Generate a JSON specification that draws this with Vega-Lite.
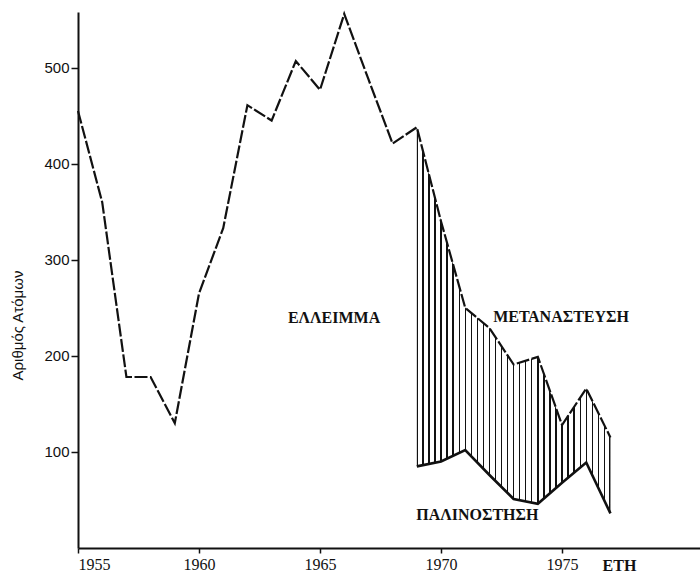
{
  "$schema": "https://vega.github.io/schema/vega-lite/v6.json",
  "width": 622,
  "height": 536,
  "autosize": "none",
  "padding": {"left": 78, "top": 12, "right": 0, "bottom": 25},
  "background": "white",
  "config": {"view": {"stroke": null}},
  "datasets": {
    "series": [
      {"year": 1955, "emigration": 455, "return": null},
      {"year": 1956, "emigration": 360, "return": null},
      {"year": 1957, "emigration": 178, "return": null},
      {"year": 1958, "emigration": 178, "return": null},
      {"year": 1959, "emigration": 130, "return": null},
      {"year": 1960, "emigration": 265, "return": null},
      {"year": 1961, "emigration": 333, "return": null},
      {"year": 1962, "emigration": 461, "return": null},
      {"year": 1963, "emigration": 445, "return": null},
      {"year": 1964, "emigration": 507, "return": null},
      {"year": 1965, "emigration": 477, "return": null},
      {"year": 1966, "emigration": 556, "return": null},
      {"year": 1967, "emigration": 488, "return": null},
      {"year": 1968, "emigration": 421, "return": null},
      {"year": 1969, "emigration": 438, "return": 85},
      {"year": 1970, "emigration": 340, "return": 90},
      {"year": 1971, "emigration": 250, "return": 102},
      {"year": 1972, "emigration": 229, "return": 76},
      {"year": 1973, "emigration": 191, "return": 51},
      {"year": 1974, "emigration": 199, "return": 46},
      {"year": 1975, "emigration": 128, "return": 68},
      {"year": 1976, "emigration": 166, "return": 89},
      {"year": 1977, "emigration": 115, "return": 36}
    ],
    "labels": [
      {"label": "ΕΛΛΕΙΜΜΑ", "year": 1965.58, "value": 239},
      {"label": "ΜΕΤΑΝΑΣΤΕΥΣΗ", "year": 1974.96, "value": 240},
      {"label": "ΠΑΛΙΝΟΣΤΗΣΗ", "year": 1971.5, "value": 34}
    ]
  },
  "encoding": {
    "x": {
      "field": "year",
      "type": "quantitative",
      "scale": {"domain": [1955, 1980.7], "nice": false, "zero": false},
      "axis": {
        "values": [1955, 1960, 1965, 1970, 1975],
        "format": "d",
        "grid": false,
        "domainColor": "#111",
        "domainWidth": 1.8,
        "tickColor": "#111",
        "tickWidth": 1.5,
        "tickSize": 5,
        "labelPadding": 3,
        "labelFont": "Liberation Serif",
        "labelFontSize": 16,
        "labelColor": "#111",
        "title": "ΕΤΗ",
        "titleFont": "Liberation Serif",
        "titleFontSize": 16,
        "titleFontWeight": "bold",
        "titleColor": "#111",
        "titleX": 541,
        "titleY": 17,
        "titleAlign": "center",
        "titleBaseline": "middle"
      }
    },
    "y": {
      "type": "quantitative",
      "scale": {"domain": [0, 558], "nice": false},
      "axis": {
        "values": [100, 200, 300, 400, 500],
        "grid": false,
        "domainColor": "#111",
        "domainWidth": 2,
        "tickColor": "#111",
        "tickWidth": 1.5,
        "tickSize": 7,
        "labelPadding": 2,
        "labelFont": "Liberation Sans",
        "labelFontSize": 15,
        "labelColor": "#111",
        "title": "Αριθμός Ατόμων",
        "titleFont": "Liberation Sans",
        "titleFontSize": 15,
        "titleFontWeight": "normal",
        "titleColor": "#111",
        "titleX": -53,
        "titleY": 313,
        "titleAlign": "center",
        "titleAngle": -90
      }
    }
  },
  "layer": [
    {
      "data": {"name": "series"},
      "transform": [{"filter": "datum['return'] != null"}],
      "mark": {
        "type": "area",
        "fill": {
          "gradient": "linear",
          "x1": 0, "y1": 0, "x2": 1, "y2": 0,
          "stops": [
            {"offset": 0, "color": "#111"}, {"offset": 0.007, "color": "#111"}, {"offset": 0.007, "color": "white"},
            {"offset": 0.02775, "color": "white"}, {"offset": 0.02775, "color": "#111"}, {"offset": 0.03475, "color": "#111"}, {"offset": 0.03475, "color": "white"},
            {"offset": 0.059, "color": "white"}, {"offset": 0.059, "color": "#111"}, {"offset": 0.066, "color": "#111"}, {"offset": 0.066, "color": "white"},
            {"offset": 0.09025, "color": "white"}, {"offset": 0.09025, "color": "#111"}, {"offset": 0.09725, "color": "#111"}, {"offset": 0.09725, "color": "white"},
            {"offset": 0.1215, "color": "white"}, {"offset": 0.1215, "color": "#111"}, {"offset": 0.1285, "color": "#111"}, {"offset": 0.1285, "color": "white"},
            {"offset": 0.15275, "color": "white"}, {"offset": 0.15275, "color": "#111"}, {"offset": 0.15975, "color": "#111"}, {"offset": 0.15975, "color": "white"},
            {"offset": 0.184, "color": "white"}, {"offset": 0.184, "color": "#111"}, {"offset": 0.191, "color": "#111"}, {"offset": 0.191, "color": "white"},
            {"offset": 0.21525, "color": "white"}, {"offset": 0.21525, "color": "#111"}, {"offset": 0.22225, "color": "#111"}, {"offset": 0.22225, "color": "white"},
            {"offset": 0.2465, "color": "white"}, {"offset": 0.2465, "color": "#111"}, {"offset": 0.2535, "color": "#111"}, {"offset": 0.2535, "color": "white"},
            {"offset": 0.27775, "color": "white"}, {"offset": 0.27775, "color": "#111"}, {"offset": 0.28475, "color": "#111"}, {"offset": 0.28475, "color": "white"},
            {"offset": 0.309, "color": "white"}, {"offset": 0.309, "color": "#111"}, {"offset": 0.316, "color": "#111"}, {"offset": 0.316, "color": "white"},
            {"offset": 0.34025, "color": "white"}, {"offset": 0.34025, "color": "#111"}, {"offset": 0.34725, "color": "#111"}, {"offset": 0.34725, "color": "white"},
            {"offset": 0.3715, "color": "white"}, {"offset": 0.3715, "color": "#111"}, {"offset": 0.3785, "color": "#111"}, {"offset": 0.3785, "color": "white"},
            {"offset": 0.40275, "color": "white"}, {"offset": 0.40275, "color": "#111"}, {"offset": 0.40975, "color": "#111"}, {"offset": 0.40975, "color": "white"},
            {"offset": 0.434, "color": "white"}, {"offset": 0.434, "color": "#111"}, {"offset": 0.441, "color": "#111"}, {"offset": 0.441, "color": "white"},
            {"offset": 0.46525, "color": "white"}, {"offset": 0.46525, "color": "#111"}, {"offset": 0.47225, "color": "#111"}, {"offset": 0.47225, "color": "white"},
            {"offset": 0.4965, "color": "white"}, {"offset": 0.4965, "color": "#111"}, {"offset": 0.5035, "color": "#111"}, {"offset": 0.5035, "color": "white"},
            {"offset": 0.52775, "color": "white"}, {"offset": 0.52775, "color": "#111"}, {"offset": 0.53475, "color": "#111"}, {"offset": 0.53475, "color": "white"},
            {"offset": 0.559, "color": "white"}, {"offset": 0.559, "color": "#111"}, {"offset": 0.566, "color": "#111"}, {"offset": 0.566, "color": "white"},
            {"offset": 0.59025, "color": "white"}, {"offset": 0.59025, "color": "#111"}, {"offset": 0.59725, "color": "#111"}, {"offset": 0.59725, "color": "white"},
            {"offset": 0.6215, "color": "white"}, {"offset": 0.6215, "color": "#111"}, {"offset": 0.6285, "color": "#111"}, {"offset": 0.6285, "color": "white"},
            {"offset": 0.65275, "color": "white"}, {"offset": 0.65275, "color": "#111"}, {"offset": 0.65975, "color": "#111"}, {"offset": 0.65975, "color": "white"},
            {"offset": 0.684, "color": "white"}, {"offset": 0.684, "color": "#111"}, {"offset": 0.691, "color": "#111"}, {"offset": 0.691, "color": "white"},
            {"offset": 0.71525, "color": "white"}, {"offset": 0.71525, "color": "#111"}, {"offset": 0.72225, "color": "#111"}, {"offset": 0.72225, "color": "white"},
            {"offset": 0.7465, "color": "white"}, {"offset": 0.7465, "color": "#111"}, {"offset": 0.7535, "color": "#111"}, {"offset": 0.7535, "color": "white"},
            {"offset": 0.77775, "color": "white"}, {"offset": 0.77775, "color": "#111"}, {"offset": 0.78475, "color": "#111"}, {"offset": 0.78475, "color": "white"},
            {"offset": 0.809, "color": "white"}, {"offset": 0.809, "color": "#111"}, {"offset": 0.816, "color": "#111"}, {"offset": 0.816, "color": "white"},
            {"offset": 0.84025, "color": "white"}, {"offset": 0.84025, "color": "#111"}, {"offset": 0.84725, "color": "#111"}, {"offset": 0.84725, "color": "white"},
            {"offset": 0.8715, "color": "white"}, {"offset": 0.8715, "color": "#111"}, {"offset": 0.8785, "color": "#111"}, {"offset": 0.8785, "color": "white"},
            {"offset": 0.90275, "color": "white"}, {"offset": 0.90275, "color": "#111"}, {"offset": 0.90975, "color": "#111"}, {"offset": 0.90975, "color": "white"},
            {"offset": 0.934, "color": "white"}, {"offset": 0.934, "color": "#111"}, {"offset": 0.941, "color": "#111"}, {"offset": 0.941, "color": "white"},
            {"offset": 0.96525, "color": "white"}, {"offset": 0.96525, "color": "#111"}, {"offset": 0.97225, "color": "#111"}, {"offset": 0.97225, "color": "white"},
            {"offset": 0.993, "color": "white"}, {"offset": 0.993, "color": "#111"}, {"offset": 1, "color": "#111"}
          ]
        },
        "fillOpacity": 1
      },
      "encoding": {
        "y": {"field": "return", "type": "quantitative"},
        "y2": {"field": "emigration"}
      }
    },
    {
      "data": {"name": "series"},
      "mark": {"type": "line", "color": "#111", "strokeWidth": 2.2, "strokeDash": [13, 2.5], "strokeJoin": "miter"},
      "encoding": {
        "y": {"field": "emigration", "type": "quantitative"}
      }
    },
    {
      "data": {"name": "series"},
      "transform": [{"filter": "datum['return'] != null"}],
      "mark": {"type": "line", "color": "#111", "strokeWidth": 2.6, "strokeJoin": "miter"},
      "encoding": {
        "y": {"field": "return", "type": "quantitative"}
      }
    },
    {
      "data": {"name": "labels"},
      "mark": {"type": "text", "font": "Liberation Serif", "fontSize": 16, "fontWeight": "bold", "color": "#111", "align": "center", "baseline": "middle"},
      "encoding": {
        "y": {"field": "value", "type": "quantitative"},
        "text": {"field": "label", "type": "nominal"}
      }
    }
  ]
}
